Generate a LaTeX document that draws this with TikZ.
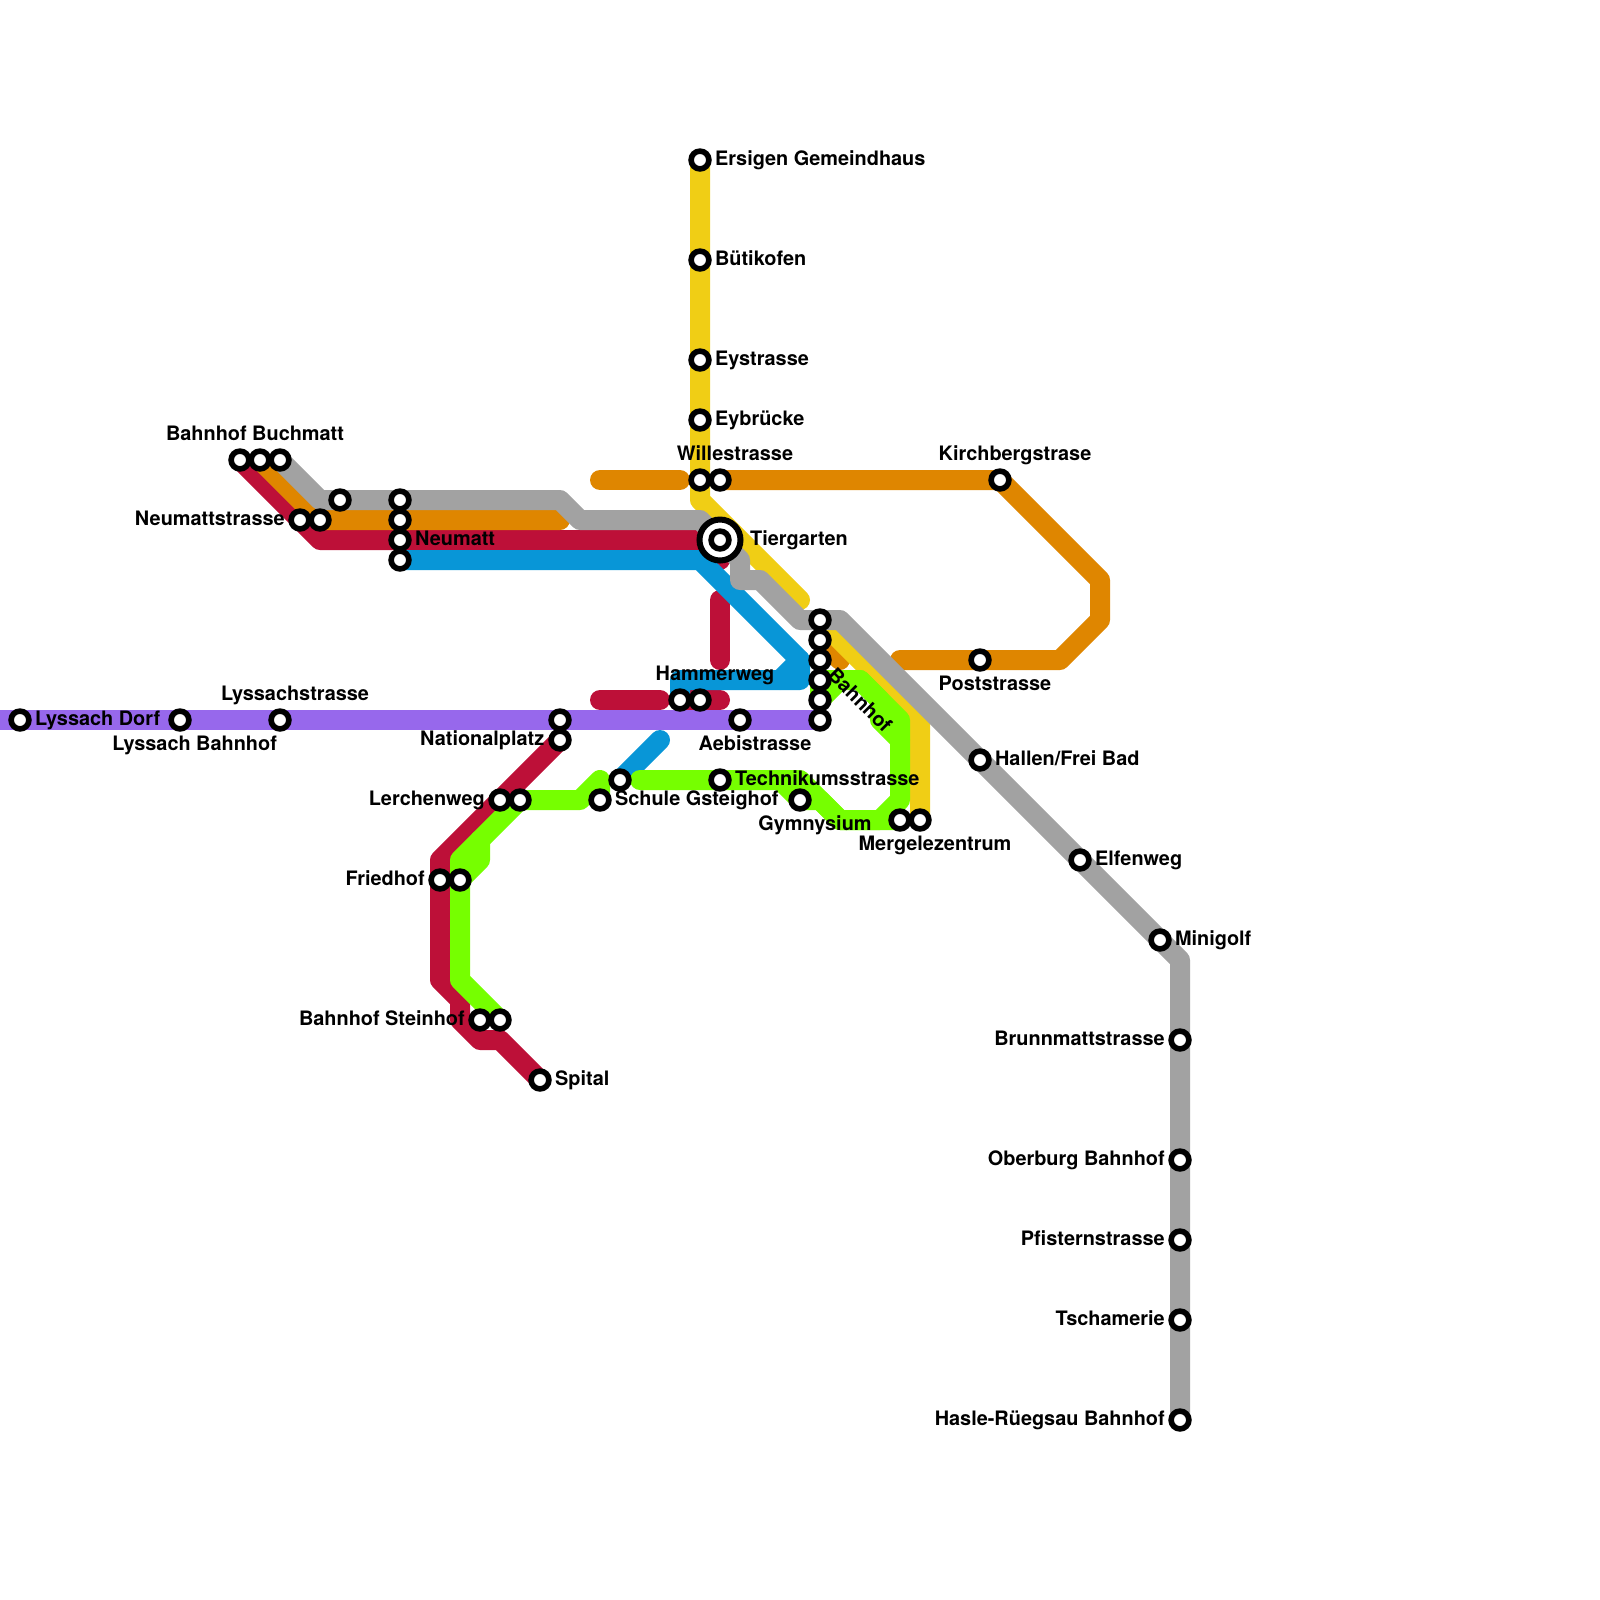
\documentclass[tikz,border=0pt]{standalone}
\usepackage{fontspec}
\setmainfont{TeX Gyre Heros}
\usepackage{tikz}

\definecolor{linepurple}{HTML}{9768EC}
\definecolor{linecrimson}{HTML}{BD1038}
\definecolor{lineblue}{HTML}{0896D7}
\definecolor{lineorange}{HTML}{DF8600}
\definecolor{lineyellow}{HTML}{F0CE15}
\definecolor{linegreen}{HTML}{76FF00}
\definecolor{linegray}{HTML}{A2A2A2}

\tikzset{
  track/.style={line width=2mm,line cap=round,line join=round},
  stop/.style={circle,draw=black,fill=white,line width=0.56mm,minimum size=1.78mm,inner sep=0pt},
  hub/.style={circle,draw=black,fill=white,line width=0.6mm,minimum size=4.1mm,inner sep=0pt},
  lbl/.style={font=\fontsize{5.66pt}{6.8pt}\selectfont\bfseries,inner sep=0pt,text height=5.2pt,text depth=1.2pt}
}

\begin{document}
\begin{tikzpicture}[x=0.2cm,y=-0.2cm]
  \useasboundingbox (0,0) rectangle (80,80);

  % Stops along the purple line
  \coordinate (edge) at (0,36);
  \coordinate (dorf) at (1,36);
  \coordinate (lyssach) at (9,36);
  \coordinate (lyssachstr) at (14,36);
  \coordinate (natA) at (28,36);
  \coordinate (natB) at (28,37);
  \coordinate (aebi) at (37,36);

  % Stops in the west
  \coordinate (buchA) at (12,23);
  \coordinate (buchB) at (13,23);
  \coordinate (buchC) at (14,23);
  \coordinate (neustrA) at (15,26);
  \coordinate (neustrB) at (16,26);
  \coordinate (neustrC) at (17,25);
  \coordinate (neuA) at (20,25);
  \coordinate (neuB) at (20,26);
  \coordinate (neuC) at (20,27);
  \coordinate (neuD) at (20,28);

  % Stops in the south
  \coordinate (lerchA) at (25,40);
  \coordinate (lerchB) at (26,40);
  \coordinate (friedA) at (22,44);
  \coordinate (friedB) at (23,44);
  \coordinate (steinA) at (24,51);
  \coordinate (steinB) at (25,51);
  \coordinate (spital) at (27,54);
  \coordinate (schuleA) at (30,40);
  \coordinate (schuleB) at (31,39);
  \coordinate (technik) at (36,39);
  \coordinate (gym) at (40,40);
  \coordinate (mergA) at (45,41);
  \coordinate (mergB) at (46,41);

  % Stops in the centre
  \coordinate (hammerA) at (34,35);
  \coordinate (hammerB) at (35,35);
  \coordinate (tier) at (36,27);
  \coordinate (bhfA) at (41,31);
  \coordinate (bhfB) at (41,32);
  \coordinate (bhfC) at (41,33);
  \coordinate (bhfD) at (41,34);
  \coordinate (bhfE) at (41,35);
  \coordinate (bhfF) at (41,36);

  % Stops in the north
  \coordinate (ersigen) at (35,8);
  \coordinate (buetikofen) at (35,13);
  \coordinate (eystr) at (35,18);
  \coordinate (eybr) at (35,21);
  \coordinate (willeA) at (35,24);
  \coordinate (willeB) at (36,24);
  \coordinate (kirch) at (50,24);
  \coordinate (post) at (49,33);

  % Stops in the east
  \coordinate (hallen) at (49,38);
  \coordinate (elfen) at (54,43);
  \coordinate (minigolf) at (58,47);
  \coordinate (brunn) at (59,52);
  \coordinate (oberburg) at (59,58);
  \coordinate (pfister) at (59,62);
  \coordinate (tscham) at (59,66);
  \coordinate (hasle) at (59,71);

  % Free line ends
  \coordinate (redA) at (36,28);
  \coordinate (redB) at (36,30);
  \coordinate (redC) at (36,33);
  \coordinate (redD) at (30,35);
  \coordinate (redE) at (33,35);
  \coordinate (redF) at (36,35);
  \coordinate (blueEnd) at (33,37);
  \coordinate (orangeA) at (28,26);
  \coordinate (orangeB) at (30,24);
  \coordinate (orangeC) at (34,24);
  \coordinate (orangeD) at (45,33);
  \coordinate (yellowEnd) at (40,30);
  \coordinate (greenA) at (32,39);

  % Crimson
  \draw[track,linecrimson] (buchA) -- (16,27) -- (tier) -- (redA);
  \draw[track,linecrimson] (redB) -- (redC);
  \draw[track,linecrimson] (redD) -- (redE);
  \draw[track,linecrimson] (hammerA) -- (redF);
  \draw[track,linecrimson] (natB) -- (22,43) -- (22,49) -- (23,50) -- (23,51) -- (24,52) -- (25,52) -- (spital);

  % Blue
  \draw[track,lineblue] (neuD) -- (35,28) -- (40,33) -- (40,34) -- (34,34) -- (hammerA);
  \draw[track,lineblue] (39,34) -- (40,33);
  \draw[track,lineblue] (schuleB) -- (blueEnd);

  % Purple
  \draw[track,linepurple] (edge) -- (bhfF);

  % Orange
  \draw[track,lineorange] (buchB) -- (neustrB) -- (orangeA);
  \draw[track,lineorange] (orangeB) -- (orangeC);
  \draw[track,lineorange] (willeB) -- (kirch) -- (55,29) -- (55,31) -- (53,33) -- (orangeD);
  \draw[track,lineorange] (bhfB) -- (42,33);

  % Yellow
  \draw[track,lineyellow] (ersigen) -- (35,25) -- (yellowEnd);
  \draw[track,lineyellow] (bhfA) -- (46,36) -- (mergB);

  % Green
  \draw[track,linegreen] (lerchB) -- (23,43) -- (23,49) -- (steinB);
  \draw[track,linegreen] (friedB) -- (24,43) -- (24,42);
  \draw[track,linegreen] (lerchB) -- (29,40) -- (30,39) -- (schuleA);
  \draw[track,linegreen] (greenA) -- (40,39) -- (42,41) -- (44,41) -- (45,40) -- (45,36) -- (43,34) -- (bhfD);
  \draw[track,linegreen] (39,39) -- (gym) -- (41,40) -- (42,41) -- (mergA);
  \draw[track,linegreen] (bhfD) -- (bhfE) -- (42,34);
  \draw[track,linegreen] (43,34) -- (44,35) -- (44,36) -- (45,37);

  % Gray
  \draw[track,linegray] (buchC) -- (16,25) -- (28,25) -- (29,26) -- (35,26) -- (37,28) -- (37,29) -- (38,29) -- (40,31) -- (42,31) -- (minigolf) -- (59,48) -- (hasle);

  % Stations
  \node[stop] (dorf-stop) at (dorf) {};
  \node[stop] (lyssach-stop) at (lyssach) {};
  \node[stop] (lyssachstr-stop) at (lyssachstr) {};
  \node[stop] (natA-stop) at (natA) {};
  \node[stop] (natB-stop) at (natB) {};
  \node[stop] (aebi-stop) at (aebi) {};
  \node[stop] (buchA-stop) at (buchA) {};
  \node[stop] (buchB-stop) at (buchB) {};
  \node[stop] (buchC-stop) at (buchC) {};
  \node[stop] (neustrA-stop) at (neustrA) {};
  \node[stop] (neustrB-stop) at (neustrB) {};
  \node[stop] (neustrC-stop) at (neustrC) {};
  \node[stop] (neuA-stop) at (neuA) {};
  \node[stop] (neuB-stop) at (neuB) {};
  \node[stop] (neuC-stop) at (neuC) {};
  \node[stop] (neuD-stop) at (neuD) {};
  \node[stop] (lerchA-stop) at (lerchA) {};
  \node[stop] (lerchB-stop) at (lerchB) {};
  \node[stop] (friedA-stop) at (friedA) {};
  \node[stop] (friedB-stop) at (friedB) {};
  \node[stop] (steinA-stop) at (steinA) {};
  \node[stop] (steinB-stop) at (steinB) {};
  \node[stop] (spital-stop) at (spital) {};
  \node[stop] (schuleA-stop) at (schuleA) {};
  \node[stop] (schuleB-stop) at (schuleB) {};
  \node[stop] (technik-stop) at (technik) {};
  \node[stop] (gym-stop) at (gym) {};
  \node[stop] (mergA-stop) at (mergA) {};
  \node[stop] (mergB-stop) at (mergB) {};
  \node[stop] (hammerA-stop) at (hammerA) {};
  \node[stop] (hammerB-stop) at (hammerB) {};
  \node[hub] (tier-hub) at (tier) {};
  \node[stop] (tier-stop) at (tier) {};
  \node[stop] (bhfA-stop) at (bhfA) {};
  \node[stop] (bhfB-stop) at (bhfB) {};
  \node[stop] (bhfC-stop) at (bhfC) {};
  \node[stop] (bhfD-stop) at (bhfD) {};
  \node[stop] (bhfE-stop) at (bhfE) {};
  \node[stop] (bhfF-stop) at (bhfF) {};
  \node[stop] (ersigen-stop) at (ersigen) {};
  \node[stop] (buetikofen-stop) at (buetikofen) {};
  \node[stop] (eystr-stop) at (eystr) {};
  \node[stop] (eybr-stop) at (eybr) {};
  \node[stop] (willeA-stop) at (willeA) {};
  \node[stop] (willeB-stop) at (willeB) {};
  \node[stop] (kirch-stop) at (kirch) {};
  \node[stop] (post-stop) at (post) {};
  \node[stop] (hallen-stop) at (hallen) {};
  \node[stop] (elfen-stop) at (elfen) {};
  \node[stop] (minigolf-stop) at (minigolf) {};
  \node[stop] (brunn-stop) at (brunn) {};
  \node[stop] (oberburg-stop) at (oberburg) {};
  \node[stop] (pfister-stop) at (pfister) {};
  \node[stop] (tscham-stop) at (tscham) {};
  \node[stop] (hasle-stop) at (hasle) {};

  % Labels
  \node[lbl,right] (dorf-lbl) at (1.72,35.9) {Lyssach Dorf};
  \node[lbl,left] (lyssach-lbl) at (13.88,37.15) {Lyssach Bahnhof};
  \node[lbl] (lyssachstr-lbl) at (14.75,34.65) {Lyssachstrasse};
  \node[lbl,left] (nat-lbl) at (27.25,36.9) {Nationalplatz};
  \node[lbl] (aebi-lbl) at (37.75,37.15) {Aebistrasse};
  \node[lbl] (buch-lbl) at (12.75,21.65) {Bahnhof Buchmatt};
  \node[lbl,left] (neustr-lbl) at (14.27,25.9) {Neumattstrasse};
  \node[lbl,right] (neu-lbl) at (20.72,26.9) {Neumatt};
  \node[lbl,left] (lerch-lbl) at (24.27,39.9) {Lerchenweg};
  \node[lbl,left] (fried-lbl) at (21.27,43.9) {Friedhof};
  \node[lbl,left] (stein-lbl) at (23.27,50.9) {Bahnhof Steinhof};
  \node[lbl,right] (spital-lbl) at (27.72,53.9) {Spital};
  \node[lbl,right] (schule-lbl) at (30.72,39.9) {Schule Gsteighof};
  \node[lbl,right] (technik-lbl) at (36.72,38.9) {Technikumsstrasse};
  \node[lbl] (gym-lbl) at (40.75,41.15) {Gymnysium};
  \node[lbl] (merg-lbl) at (46.75,42.15) {Mergelezentrum};
  \node[lbl] (hammer-lbl) at (35.75,33.65) {Hammerweg};
  \node[lbl,right] (tier-lbl) at (37.47,26.9) {Tiergarten};
  \node[lbl,rotate=-45] (bhf-lbl) at (43,35) {Bahnhof};
  \node[lbl,right] (ersigen-lbl) at (35.72,7.9) {Ersigen Gemeindhaus};
  \node[lbl,right] (buetikofen-lbl) at (35.72,12.9) {Bütikofen};
  \node[lbl,right] (eystr-lbl) at (35.72,17.9) {Eystrasse};
  \node[lbl,right] (eybr-lbl) at (35.72,20.9) {Eybrücke};
  \node[lbl] (wille-lbl) at (36.75,22.65) {Willestrasse};
  \node[lbl] (kirch-lbl) at (50.75,22.65) {Kirchbergstrase};
  \node[lbl] (post-lbl) at (49.75,34.15) {Poststrasse};
  \node[lbl,right] (hallen-lbl) at (49.72,37.9) {Hallen/Frei Bad};
  \node[lbl,right] (elfen-lbl) at (54.72,42.9) {Elfenweg};
  \node[lbl,right] (minigolf-lbl) at (58.72,46.9) {Minigolf};
  \node[lbl,left] (brunn-lbl) at (58.27,51.9) {Brunnmattstrasse};
  \node[lbl,left] (oberburg-lbl) at (58.27,57.9) {Oberburg Bahnhof};
  \node[lbl,left] (pfister-lbl) at (58.27,61.9) {Pfisternstrasse};
  \node[lbl,left] (tscham-lbl) at (58.27,65.9) {Tschamerie};
  \node[lbl,left] (hasle-lbl) at (58.27,70.9) {Hasle-Rüegsau Bahnhof};
\end{tikzpicture}
\end{document}
